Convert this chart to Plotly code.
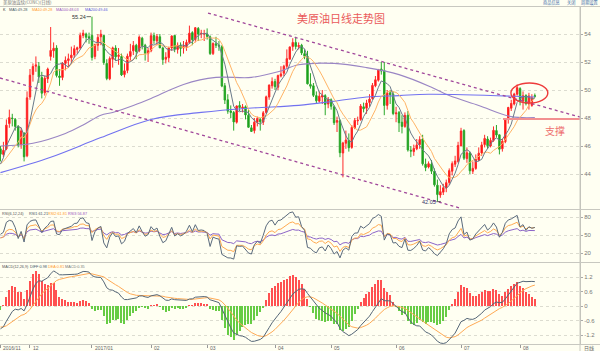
import plotly.graph_objects as go

# ---------------- data ----------------
opens = [45.8,45.4,45.8,47.6,48.0,47.9,47.4,46.1,46.9,45.3,
         49.5,51.1,51.7,51.7,50.9,49.8,50.8,52.4,52.8,53.0,
         51.0,50.9,51.9,52.1,52.3,52.5,52.9,53.0,53.9,54.0,
         53.8,53.9,52.4,53.2,53.8,53.9,51.9,50.8,52.2,53.0,
         52.4,52.4,51.1,51.4,52.4,52.8,53.2,52.8,53.7,53.2,
         52.6,52.8,53.9,53.5,53.8,53.0,52.2,52.3,53.0,53.9,
         52.9,53.2,53.0,53.1,53.4,54.1,53.6,54.4,54.0,54.0,
         54.0,53.8,52.6,53.3,53.2,53.1,50.3,49.3,48.5,48.4,
         47.7,48.9,48.7,48.8,48.2,47.3,47.1,47.7,47.9,47.7,
         48.4,49.5,50.3,50.6,50.2,51.0,51.2,51.7,52.2,53.1,
         53.4,53.1,53.2,52.6,52.4,50.4,50.3,49.6,49.2,49.5,
         49.6,49.0,49.3,48.8,47.7,47.8,45.5,46.2,46.4,45.9,
         47.3,47.8,47.9,48.8,48.7,49.1,49.4,50.3,50.7,51.5,
         51.4,48.9,49.8,49.7,48.3,48.4,47.7,47.4,48.2,45.7,
         45.6,45.8,46.1,46.5,44.7,44.5,44.7,44.2,43.2,42.5,
         42.7,43.0,43.4,44.2,44.7,44.9,46.0,47.1,45.1,45.5,
         44.2,44.4,45.0,45.5,46.1,46.5,46.0,46.4,47.1,46.8,
         45.8,46.3,47.9,48.7,49.0,49.7,50.1,49.2,49.6,49.0,
         48.9,49.6]
highs = [46.0,46.3,47.9,48.6,48.3,48.0,47.5,47.3,47.0,49.9,
         51.5,51.9,52.4,52.0,51.3,51.0,51.6,54.5,53.4,53.2,
         51.5,52.0,52.4,52.6,53.1,53.2,53.1,54.1,54.3,54.1,
         54.1,55.24,53.3,54.0,54.3,53.9,52.2,52.4,53.1,53.2,
         53.0,52.6,51.9,52.6,53.3,53.5,53.3,53.9,53.8,53.3,
         53.0,54.1,54.1,54.0,54.0,53.1,52.7,53.1,53.9,53.9,
         53.4,53.4,53.5,53.6,54.6,54.2,54.5,54.5,54.3,54.3,
         54.4,53.9,53.4,53.8,53.5,53.2,50.5,49.7,48.9,48.5,
         48.9,49.2,49.0,48.9,48.6,47.5,48.0,48.1,48.0,48.5,
         49.6,50.4,50.9,50.8,51.1,51.7,51.8,52.9,53.1,53.7,
         53.8,53.4,53.3,52.9,52.8,51.2,50.5,49.9,49.9,50.0,
         49.7,49.5,49.4,48.9,48.1,47.9,46.3,47.1,46.9,47.5,
         48.0,48.1,49.0,49.1,49.3,49.7,50.5,51.0,51.5,52.0,
         52.0,50.0,50.0,49.9,48.8,48.5,48.2,48.4,48.5,46.0,
         46.1,46.5,46.7,46.8,45.1,44.9,45.0,44.4,43.6,43.2,
         43.3,43.6,44.4,44.9,45.3,46.3,47.3,47.2,45.9,45.6,
         44.9,45.4,45.9,46.3,46.8,46.7,46.6,47.4,47.5,46.8,
         46.5,48.0,48.8,49.3,49.8,50.4,50.2,49.9,49.7,49.8,
         49.7,49.75]
lows = [44.9,45.2,45.7,47.3,47.4,47.1,45.9,45.8,44.9,45.2,
        49.3,50.6,51.3,50.5,49.4,49.6,50.5,52.1,52.3,50.9,
        50.3,50.7,51.4,51.6,51.9,52.3,52.6,52.9,53.7,53.4,
        53.3,52.1,52.2,52.8,53.2,51.8,50.7,50.7,51.6,52.1,
        51.8,51.0,50.9,51.2,52.1,52.5,52.2,52.7,52.9,52.1,
        52.0,52.7,53.3,53.2,53.0,51.8,51.9,52.0,52.8,52.7,
        52.6,52.4,52.6,52.8,53.3,53.2,53.4,53.5,53.7,53.5,
        53.6,52.5,52.5,53.0,52.8,50.2,49.0,48.3,48.0,47.1,
        47.6,48.5,48.4,47.9,47.3,47.01,46.9,47.4,47.1,47.5,
        48.3,49.3,50.1,50.0,50.0,50.9,51.0,51.5,52.2,52.8,
        52.9,52.9,52.5,52.2,50.4,50.1,49.5,49.0,49.1,49.0,
        48.2,48.7,48.6,47.5,47.0,45.2,43.76,45.8,45.6,45.8,
        47.2,47.5,47.8,48.4,48.3,48.8,49.3,50.2,50.6,51.1,
        48.2,48.6,49.0,48.2,47.7,47.0,46.9,47.3,45.6,45.2,
        45.3,45.7,45.8,44.6,44.2,44.4,44.0,43.1,42.05,42.3,
        42.5,42.7,43.2,43.9,44.5,44.8,46.0,45.0,44.8,44.0,
        44.0,44.3,44.9,45.3,45.9,45.8,45.9,46.3,46.6,45.4,
        45.6,46.2,47.6,48.5,48.9,49.6,48.9,48.6,48.9,48.6,
        48.8,49.45]
closes = [45.42,45.69,47.49,48.03,47.96,47.40,46.06,47.08,45.23,49.44,
          51.06,51.68,51.79,50.93,49.77,50.84,51.50,52.83,52.98,51.04,
          50.90,51.90,52.12,52.23,52.49,52.95,53.02,53.90,54.06,53.77,
          53.72,52.33,53.26,53.76,53.99,51.96,50.82,52.25,53.01,52.37,
          52.48,51.08,51.37,52.42,52.75,53.18,52.75,53.78,53.17,52.63,
          52.81,53.88,53.54,53.83,53.01,52.17,52.34,53.00,53.86,52.93,
          53.20,52.97,53.11,53.40,54.06,53.59,54.45,53.99,54.05,54.01,
          53.83,52.61,53.33,53.20,53.14,50.28,49.28,48.49,48.40,47.72,
          48.86,48.75,48.78,48.22,47.34,47.04,47.70,47.97,47.73,48.37,
          49.51,50.35,50.60,50.24,51.03,51.15,51.70,52.24,53.08,53.40,
          53.11,53.18,52.65,52.41,50.44,50.27,49.62,49.23,49.56,49.62,
          48.97,49.33,48.84,47.66,47.82,45.52,46.22,46.43,45.88,47.33,
          47.83,47.84,48.85,48.66,49.07,49.35,50.33,50.73,51.47,51.36,
          48.90,49.80,49.66,48.32,48.36,47.66,47.40,48.19,45.72,45.64,
          45.83,46.08,46.46,44.73,44.46,44.74,44.20,43.23,42.53,42.74,
          43.01,43.38,44.24,44.74,44.93,46.04,47.07,45.13,45.52,44.23,
          44.40,45.04,45.49,46.08,46.54,46.02,46.40,47.12,46.79,45.77,
          46.34,47.89,48.75,49.04,49.71,50.17,49.16,49.59,49.03,49.58,
          49.45,49.55]
# closes before the first visible candle (used only to warm up indicators)
warmup_closes = [40.06,39.51,40.83,41.93,41.80,43.02,42.77,41.71,43.49,44.49,
                 45.74,46.58,46.79,48.22,48.52,47.05,48.10,46.77,47.33,47.64,
                 46.98,46.35,44.70,43.16,44.44,44.83,45.50,47.62,45.88,46.29,
                 44.90,43.58,43.91,43.03,43.30,43.44,45.34,46.32,44.48,45.93,
                 44.67,47.05,47.83,48.24,48.81,48.69,49.83,50.44,49.81,51.35,
                 50.79,50.18,50.44,50.35,49.94,50.29,51.60,50.43,50.85,50.52,
                 49.96,49.18,49.72,48.70,46.86,46.67,45.34,44.66,44.07,44.89,
                 44.98,45.27,44.66,43.41,43.32,45.81,45.57]

ma100_idx = [0, 11, 22, 28, 34, 38, 45, 51, 62, 73, 85, 94, 101, 113, 124, 135, 146, 152, 162, 173, 181]
ma100_val = [46.0, 46.2, 46.9, 47.5, 48.2, 48.4, 48.9, 49.4, 50.4, 50.9, 50.9, 51.3, 51.8, 51.9, 51.6,
             51.1, 50.2, 49.6, 48.9, 48.1, 48.03]
ma200_idx = [0, 17, 34, 51, 68, 84, 101, 113, 124, 135, 145, 181]
ma200_val = [44.1, 45.2, 46.6, 47.9, 48.4, 48.7, 48.9, 49.2, 49.5, 49.6, 49.7, 49.5]

month_idx = [0, 10, 31, 51, 70, 93, 112, 134, 156, 176]
month_labels = ["2016/11", "12", "2017/01", "02", "03", "04", "05", "06", "07", "08"]

price_ticks = [44, 46, 48, 50, 52, 54]
rsi_ticks = [20, 50, 80]
macd_ticks = [-1.2, -0.6, 0, 0.6, 1.2]
macd_ticktext = ["-1.2", "-0.6", "0", "0.6", "1.2"]

high_idx, high_val = 31, 55.24
low_idx, low_val = 148, 42.05
support_level = 47.93
upper_channel = [(70.3, 55.5), (196.3, 48.07)]
lower_channel = [(-0.16, 50.86), (155.6, 41.57)]
circle_box = (172.9, 49.07, 185.4, 50.5)

# ---------------- indicators ----------------
n = len(closes)
x = list(range(n))
allc = warmup_closes + closes
W = len(warmup_closes)


def sma(vals, p):
    out = []
    for i in range(len(vals)):
        s = vals[max(0, i - p + 1):i + 1]
        out.append(sum(s) / len(s))
    return out


def ema(vals, p):
    a = 2.0 / (p + 1)
    out = [vals[0]]
    for v in vals[1:]:
        out.append(a * v + (1 - a) * out[-1])
    return out


def rsi(vals, p):
    up = [0.0]
    ab = [0.0]
    for i in range(1, len(vals)):
        d = vals[i] - vals[i - 1]
        up.append(max(d, 0.0))
        ab.append(abs(d))
    su, sa = up[1], ab[1] if ab[1] else 1e-9
    out = [50.0, 50.0]
    for i in range(2, len(vals)):
        su = (up[i] + (p - 1) * su) / p
        sa = (ab[i] + (p - 1) * sa) / p
        out.append(100.0 * su / sa if sa > 0 else 50.0)
    return out


ma5 = sma(allc, 5)[W:]
ma10 = sma(allc, 10)[W:]
rsi6 = rsi(allc, 6)[W:]
rsi12 = rsi(allc, 12)[W:]
rsi24 = rsi(allc, 24)[W:]
e12 = ema(allc, 12)
e26 = ema(allc, 26)
diff_all = [a - b for a, b in zip(e12, e26)]
dea_all = ema(diff_all, 9)
diff = diff_all[W:]
dea = dea_all[W:]
macd = [2 * (a - b) for a, b in zip(diff, dea)]

# ---------------- layout helpers ----------------
FW, FH = 600, 351
XD = 580 / FW


def py(px):
    return 1 - px / FH


def pxx(px):
    return px / FW


main_dom = [py(209), py(7)]
rsi_dom = [py(262), py(210)]
macd_dom = [py(344), py(263)]
XR = [-0.16, 196.3]

BG = "#fffff2"
GRID = "#dcdcd0"
CN = "Noto Sans CJK SC"

fig = go.Figure()

fig.add_trace(go.Candlestick(
    x=x, open=opens, high=highs, low=lows, close=closes,
    increasing=dict(line=dict(color="#ff2a2a", width=1), fillcolor="#ff0000"),
    decreasing=dict(line=dict(color="#2aa82a", width=1), fillcolor="#119911"),
    whiskerwidth=0, hoverinfo="skip", xaxis="x", yaxis="y"))
fig.add_trace(go.Scatter(x=ma100_idx, y=ma100_val, mode="lines", line=dict(color="#9a86c4", width=1.1, shape="spline"),
                         hoverinfo="skip", xaxis="x", yaxis="y"))
fig.add_trace(go.Scatter(x=ma200_idx, y=ma200_val, mode="lines", line=dict(color="#7272f0", width=1.1, shape="spline"),
                         hoverinfo="skip", xaxis="x", yaxis="y"))
fig.add_trace(go.Scatter(x=x, y=ma10, mode="lines", line=dict(color="#ffb466", width=1),
                         hoverinfo="skip", xaxis="x", yaxis="y"))
fig.add_trace(go.Scatter(x=x, y=ma5, mode="lines", line=dict(color="#6a7a8a", width=1),
                         hoverinfo="skip", xaxis="x", yaxis="y"))

# RSI
fig.add_trace(go.Scatter(x=x, y=rsi24, mode="lines", line=dict(color="#8c64c8", width=1),
                         hoverinfo="skip", xaxis="x2", yaxis="y2"))
fig.add_trace(go.Scatter(x=x, y=rsi12, mode="lines", line=dict(color="#ffaa50", width=1),
                         hoverinfo="skip", xaxis="x2", yaxis="y2"))
fig.add_trace(go.Scatter(x=x, y=rsi6, mode="lines", line=dict(color="#5a6a7c", width=1),
                         hoverinfo="skip", xaxis="x2", yaxis="y2"))

# MACD
fig.add_trace(go.Bar(x=x, y=macd, width=0.4,
                     marker=dict(color=["#ff5050" if v >= 0 else "#66cc44" for v in macd], line=dict(width=0)),
                     hoverinfo="skip", xaxis="x3", yaxis="y3"))
fig.add_trace(go.Scatter(x=x, y=dea, mode="lines", line=dict(color="#ffaa55", width=1),
                         hoverinfo="skip", xaxis="x3", yaxis="y3"))
fig.add_trace(go.Scatter(x=x, y=diff, mode="lines", line=dict(color="#556677", width=1),
                         hoverinfo="skip", xaxis="x3", yaxis="y3"))

axis_font = dict(size=6, color="#777777", family="Liberation Sans")
common_y = dict(side="right", showgrid=True, gridcolor=GRID, griddash="dot", gridwidth=1,
                zeroline=False, showline=True, linecolor="#c0c0b8", linewidth=1,
                ticks="outside", ticklen=2, tickcolor="#aaaaaa", tickfont=axis_font, fixedrange=True)
common_x = dict(range=XR, domain=[0, XD], showgrid=False, zeroline=False, showticklabels=False, fixedrange=True)

shapes = []
# channel lines
for (a, b) in (upper_channel, lower_channel):
    shapes.append(dict(type="line", xref="x", yref="y", x0=a[0], y0=a[1], x1=b[0], y1=b[1],
                       line=dict(color="#a0469a", width=1.3, dash="dot")))
# support line
shapes.append(dict(type="line", xref="x", yref="y", x0=170.2, x1=XR[1], y0=support_level, y1=support_level,
                   line=dict(color="#f29090", width=2)))
# circle
shapes.append(dict(type="circle", xref="x", yref="y", x0=circle_box[0], y0=circle_box[1],
                   x1=circle_box[2], y1=circle_box[3], line=dict(color="#ee3b3b", width=1.4)))
# frame lines
for ypx in (6.5, 209.5, 262.5, 344.5):
    shapes.append(dict(type="line", xref="paper", yref="paper", x0=0, x1=1, y0=py(ypx), y1=py(ypx),
                       line=dict(color="#c8c8c0", width=1)))
shapes.append(dict(type="line", xref="paper", yref="paper", x0=XD, x1=XD, y0=0, y1=py(6.5),
                   line=dict(color="#c8c8c0", width=1)))

ann = []


def txt(px, pyy, s, color="#444444", size=3.8, family="Liberation Sans", anchor="left"):
    ann.append(dict(xref="paper", yref="paper", x=pxx(px), y=py(pyy), text=s, showarrow=False,
                    xanchor=anchor, yanchor="middle", borderpad=0,
                    font=dict(size=size, color=color, family=family)))


# header
txt(2, 3, "美原油连续(CONC)(日线)", "#777777", 4.4, CN)
txt(542, 3, "商品信息", "#3a6aa8", 4.2, CN)
txt(566, 3, "关闭", "#3a6aa8", 4.2, CN)
txt(599, 3, "周期设置", "#3a6aa8", 4.2, CN, "right")
# main legend
txt(2, 10, "K", "#333333")
txt(8, 10, "MA5:49.28", "#445566")
txt(31, 10, "MA10:49.28", "#ff9a2a")
txt(55, 10, "MA100:48.03", "#9a55c0")
txt(84, 10, "MA200:49.46", "#5a5ae0")
# RSI legend
txt(1, 213.5, "RSI(6,12,24)", "#555555")
txt(28, 213.5, "RSI1:61.21", "#445566")
txt(47, 213.5, "RSI2:61.81", "#ff9a2a")
txt(67, 213.5, "RSI3:56.87", "#9a55c0")
# MACD legend
txt(1, 267, "MACD(12,26,9)", "#555555")
txt(29, 267, "DIFF:0.98", "#445566")
txt(46.5, 267, "DEA:0.81", "#ff9a2a")
txt(64, 267, "MACD:0.35", "#777777")
# title and support
txt(341, 18, "美原油日线走势图", "#ea5a5a", 11, CN, "center")
txt(555, 130, "支撑", "#ee7070", 10, CN, "center")
# bottom-right box
txt(589, 348, "日线", "#666666", 5, CN, "center")
# month labels
for mi, ml in zip(month_idx, month_labels):
    ann.append(dict(xref="x3", yref="paper", x=mi, y=py(348.3), text=ml, showarrow=False, xanchor="left",
                    xshift=1, yanchor="middle", font=dict(size=5, color="#666666", family="Liberation Sans")))
# high/low markers
ann.append(dict(xref="x", yref="y", x=high_idx, y=high_val, text="55.24", showarrow=True, arrowhead=0,
                arrowwidth=0.8, arrowcolor="#444444", ax=-13, ay=0, standoff=1, borderpad=0,
                font=dict(size=5.5, color="#333333", family="Liberation Sans")))
ann.append(dict(xref="x", yref="y", x=low_idx + 1.5, y=low_val, text="42.05", showarrow=True, arrowhead=0,
                arrowwidth=0.8, arrowcolor="#444444", ax=-13, ay=1, standoff=1, borderpad=0,
                font=dict(size=5.5, color="#333366", family="Liberation Sans")))

fig.update_layout(
    width=FW, height=FH, margin=dict(l=0, r=0, t=0, b=0),
    paper_bgcolor=BG, plot_bgcolor=BG, showlegend=False, bargap=0,
    xaxis=dict(**common_x, anchor="y", rangeslider=dict(visible=False)),
    xaxis2=dict(**common_x, anchor="y2", matches="x"),
    xaxis3=dict(**common_x, anchor="y3", matches="x", tickvals=month_idx, ticks="outside", ticklen=3,
                tickcolor="#999999", showline=False),
    yaxis=dict(**common_y, domain=main_dom, anchor="x", range=[41.5, 55.93], tickvals=price_ticks),
    yaxis2=dict(**common_y, domain=rsi_dom, anchor="x2", range=[5.0, 91.7], tickvals=rsi_ticks),
    yaxis3=dict(**common_y, domain=macd_dom, anchor="x3", range=[-1.572, 1.779], tickvals=macd_ticks,
                ticktext=macd_ticktext),
    shapes=shapes, annotations=ann,
)

fig.write_html("out.html")
